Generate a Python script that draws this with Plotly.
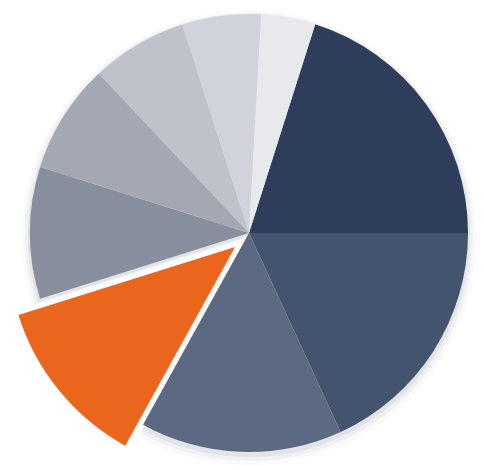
import plotly.graph_objects as go

# ---- data ----
categories = ["A", "B", "C", "D", "E", "F", "G", "H", "I"]
values = [20.1, 18.1, 14.9, 12.1, 9.7, 8.1, 7.1, 5.8, 4.0]
colors = ["#2e3e5a", "#44536e", "#5b6a82", "#ea661d", "#878f9e",
          "#a3a8b3", "#bfc2cb", "#d0d3da", "#e8e9ed"]
highlight = "D"

W, H = 484, 470
OFF = 8            # page body margin
ROT = 17.6
TRANSP = "rgba(0,0,0,0)"
hi = categories.index(highlight)


def dom(cx, cy, r):
    cx, cy = cx - OFF, cy - OFF
    x0, x1 = (cx - r) / W, (cx + r) / W
    y0, y1 = 1 - (cy + r) / H, 1 - (cy - r) / H
    return dict(x=[max(0, x0), min(1, x1)], y=[max(0, y0), min(1, y1)])


def pie(cols, domain):
    return go.Pie(
        labels=categories, values=values, sort=False, direction="clockwise",
        rotation=ROT, marker=dict(colors=cols, line=dict(width=0)),
        textinfo="none", hoverinfo="label+value", showlegend=False,
        domain=domain,
    )


base_cols = [c if i != hi else TRANSP for i, c in enumerate(colors)]
hi_cols = [c if i == hi else TRANSP for i, c in enumerate(colors)]

BCX, BCY, BR = 249, 233, 219      # main pie (screen px)
OCX, OCY, OR = 232, 247, 230      # pulled-out slice vertex and radius

fig = go.Figure()
# soft shadows
for dr, dy, a in [(8, 5, 0.025), (5, 4, 0.045), (2, 3, 0.07)]:
    sc = f"rgba(40,50,80,{a})"
    fig.add_trace(pie([sc if i != hi else TRANSP for i in range(len(values))],
                      dom(BCX, BCY + dy, BR + dr)))
for dr, dy, a in [(5, 4, 0.03), (2, 3, 0.06)]:
    sc = f"rgba(40,50,80,{a})"
    fig.add_trace(pie([sc if i == hi else TRANSP for i in range(len(values))],
                      dom(OCX, OCY + dy, OR + dr)))

fig.add_trace(pie(base_cols, dom(BCX, BCY, BR)))
fig.add_trace(pie(hi_cols, dom(OCX, OCY, OR)))

fig.update_layout(
    width=W, height=H, margin=dict(l=0, r=0, t=0, b=0),
    paper_bgcolor="white", plot_bgcolor="white", showlegend=False,
)
fig.write_html("out.html")
